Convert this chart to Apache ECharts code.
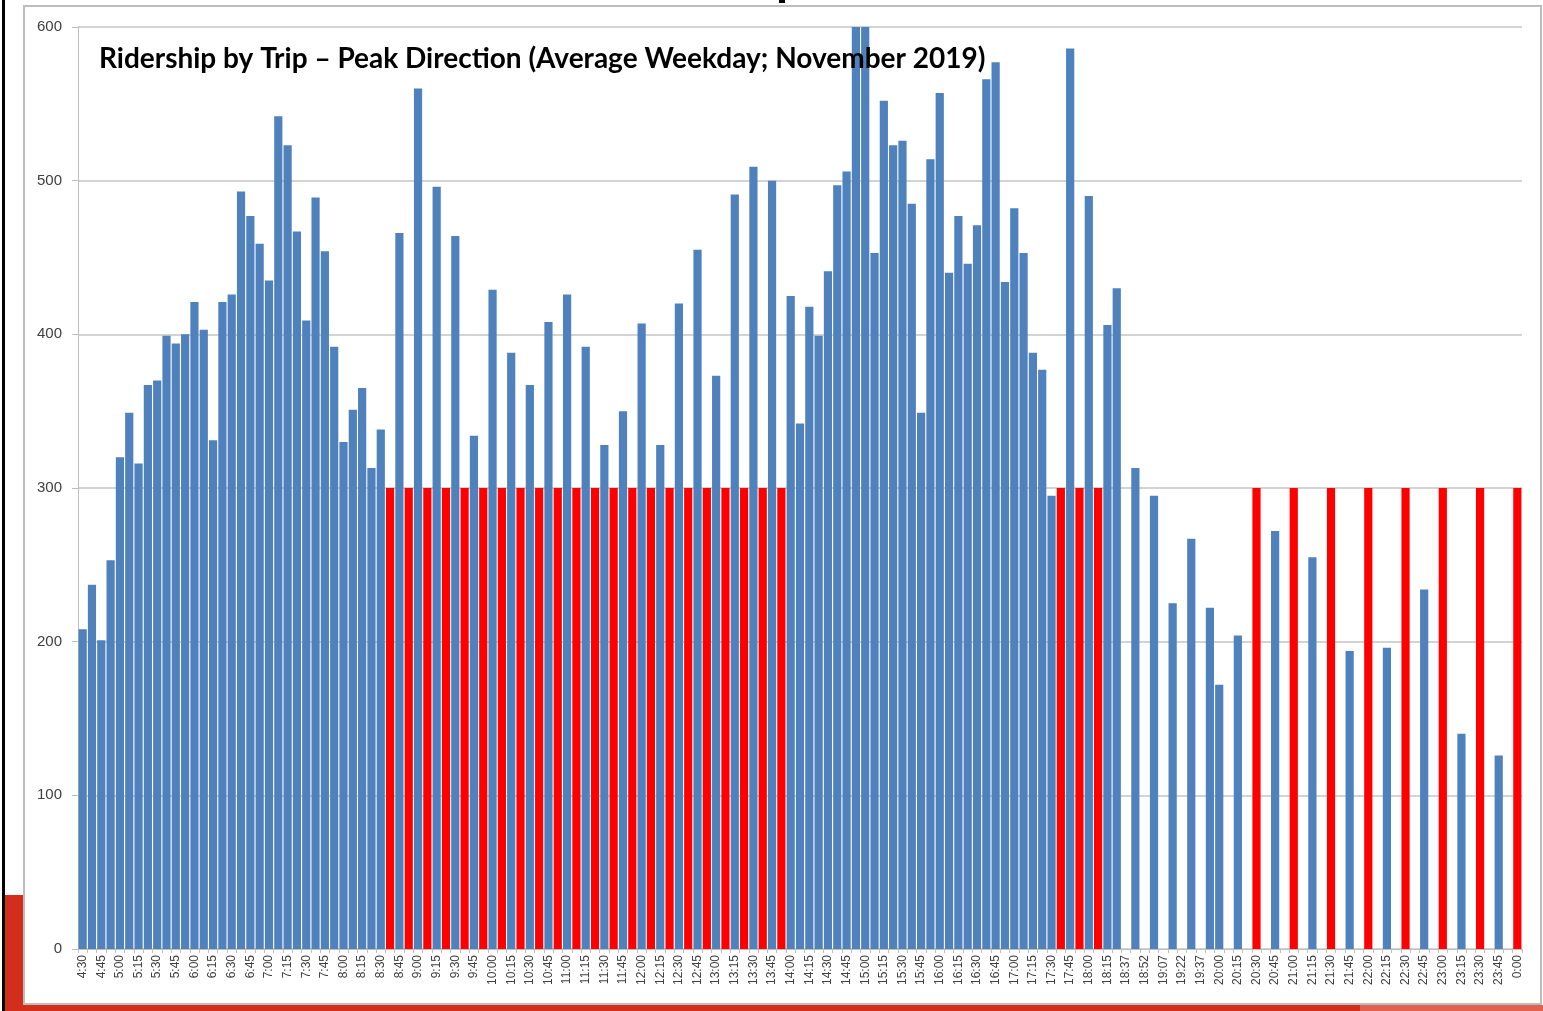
<!DOCTYPE html>
<html>
<head>
<meta charset="utf-8">
<script src="https://cdn.jsdelivr.net/npm/echarts@6/dist/echarts.min.js"></script>
<style>
html,body{margin:0;padding:0;background:#fff;}
#chart{width:1543px;height:1011px;}
</style>
</head>
<body>
<div id="chart"></div>
<script>
// Trip times (category axis; every other one is labelled)
var tripTimes = [
 '4:30','4:37','4:45','4:52',
 '5:00','5:07','5:15','5:22','5:30','5:37','5:45','5:52',
 '6:00','6:07','6:15','6:22','6:30','6:37','6:45','6:52',
 '7:00','7:07','7:15','7:22','7:30','7:37','7:45','7:52',
 '8:00','8:07','8:15','8:22','8:30','8:37','8:45','8:52',
 '9:00','9:07','9:15','9:22','9:30','9:37','9:45','9:52',
 '10:00','10:07','10:15','10:22','10:30','10:37','10:45','10:52',
 '11:00','11:07','11:15','11:22','11:30','11:37','11:45','11:52',
 '12:00','12:07','12:15','12:22','12:30','12:37','12:45','12:52',
 '13:00','13:07','13:15','13:22','13:30','13:37','13:45','13:52',
 '14:00','14:07','14:15','14:22','14:30','14:37','14:45','14:52',
 '15:00','15:07','15:15','15:22','15:30','15:37','15:45','15:52',
 '16:00','16:07','16:15','16:22','16:30','16:37','16:45','16:52',
 '17:00','17:07','17:15','17:22','17:30','17:37','17:45','17:52',
 '18:00','18:07','18:15','18:22',
 '18:37','18:45','18:52','19:00','19:07','19:15','19:22','19:30','19:37','19:45',
 '20:00','20:07','20:15','20:22','20:30','20:37','20:45','20:52',
 '21:00','21:07','21:15','21:22','21:30','21:37','21:45','21:52',
 '22:00','22:07','22:15','22:22','22:30','22:37','22:45','22:52',
 '23:00','23:07','23:15','23:22','23:30','23:37','23:45','23:52',
 '0:00'
];

// Observed ridership (blue); '-' = no observed value at that slot
var ridership = [
 208,237,201,253,
 320,349,316,367,370,399,394,400,
 421,403,331,421,426,493,477,459,
 435,542,523,467,409,489,454,392,
 330,351,365,313,338,'-',466,'-',
 560,'-',496,'-',464,'-',334,'-',
 429,'-',388,'-',367,'-',408,'-',
 426,'-',392,'-',328,'-',350,'-',
 407,'-',328,'-',420,'-',455,'-',
 373,'-',491,'-',509,'-',500,'-',
 425,342,418,399,441,497,506,600,
 600,453,552,523,526,485,349,514,
 557,440,477,446,471,566,577,434,
 482,453,388,377,295,'-',586,'-',
 490,'-',406,430,
 '-',313,'-',295,'-',225,'-',267,'-',222,
 172,'-',204,'-','-','-',272,'-',
 '-','-',255,'-','-','-',194,'-',
 '-','-',196,'-','-','-',234,'-',
 '-','-',140,'-','-','-',126,'-',
 '-'
];

// Added trips (red), shown at 300
var addedTrips = [
 '-','-','-','-',
 '-','-','-','-','-','-','-','-',
 '-','-','-','-','-','-','-','-',
 '-','-','-','-','-','-','-','-',
 '-','-','-','-','-',300,'-',300,
 '-',300,'-',300,'-',300,'-',300,
 '-',300,'-',300,'-',300,'-',300,
 '-',300,'-',300,'-',300,'-',300,
 '-',300,'-',300,'-',300,'-',300,
 '-',300,'-',300,'-',300,'-',300,
 '-','-','-','-','-','-','-','-',
 '-','-','-','-','-','-','-','-',
 '-','-','-','-','-','-','-','-',
 '-','-','-','-','-',300,'-',300,
 '-',300,'-','-',
 '-','-','-','-','-','-','-','-','-','-',
 '-','-','-','-',300,'-','-','-',
 300,'-','-','-',300,'-','-','-',
 300,'-','-','-',300,'-','-','-',
 300,'-','-','-',300,'-','-','-',
 300
];

var yTicks = [0,100,200,300,400,500,600];
var chartTitle = 'Ridership by Trip \u2013 Peak Direction (Average Weekday; November 2019)';

var chart = echarts.init(document.getElementById('chart'), null, {renderer:'canvas'});
chart.setOption({
  backgroundColor:'#ffffff',
  animation:false,
  title:{
    text: chartTitle,
    left: 94, top: 40,
    textStyle:{fontFamily:'Lato', fontWeight:'bold', fontSize:28, color:'#000000'},
    z: 10
  },
  graphic:[
    {type:'rect', silent:true, z:-10, shape:{x:24,y:6,width:1517,height:998}, style:{fill:'#ffffff', stroke:'#bdbdbd', lineWidth:2}},
    {type:'rect', silent:true, z:-5, shape:{x:2,y:0,width:3,height:1011}, style:{fill:'#000000'}},
    {type:'rect', silent:true, z:-5, shape:{x:5,y:895,width:18,height:116}, style:{fill:'#d22e1b'}},
    {type:'rect', silent:true, z:-5, shape:{x:5,y:1005,width:1355,height:6}, style:{fill:'#d22e1b'}},
    {type:'rect', silent:true, z:-5, shape:{x:1360,y:1005,width:183,height:6}, style:{fill:'#e2604e'}},
    {type:'rect', silent:true, z:-5, shape:{x:779,y:0,width:6,height:3}, style:{fill:'#000000'}}
  ],
  grid:{left:78, right:21, top:27, bottom:62, containLabel:false},
  xAxis:{
    type:'category',
    data: tripTimes,
    boundaryGap:true,
    axisLine:{show:true, lineStyle:{color:'#bfbfbf', width:1}},
    axisTick:{show:true, interval:0, length:4, lineStyle:{color:'#bfbfbf'}},
    axisLabel:{interval:1, rotate:90, fontSize:12, color:'#404040', fontFamily:'Liberation Sans', margin:6},
    splitLine:{show:false}
  },
  yAxis:{
    type:'value',
    min: yTicks[0], max: yTicks[yTicks.length-1], interval:100,
    axisLine:{show:true, lineStyle:{color:'#bfbfbf', width:1}},
    axisTick:{show:true, length:6, lineStyle:{color:'#bfbfbf'}},
    axisLabel:{fontSize:15, color:'#404040', fontFamily:'Liberation Sans', margin:16},
    splitLine:{show:true, lineStyle:{color:'#c4c4c4', width:1.5}}
  },
  series:[
    {name:'Ridership', type:'bar', data: ridership, barGap:'-100%', barCategoryGap:'12%',
     itemStyle:{color:'#4f81bd'}, clip:true},
    {name:'Added trips', type:'bar', data: addedTrips, barGap:'-100%', barCategoryGap:'12%',
     itemStyle:{color:'#ff0000'}, clip:true}
  ]
});
</script>
</body>
</html>
